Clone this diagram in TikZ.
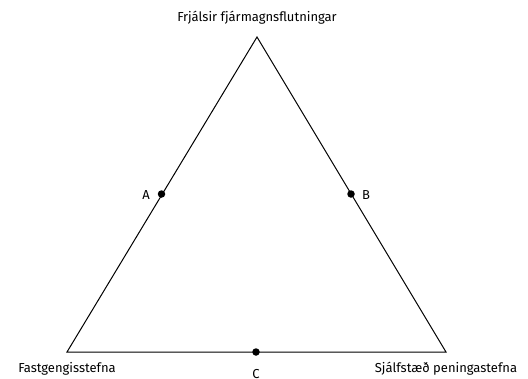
\documentclass[tikz,border=0pt]{standalone}
\usepackage{fontspec}
\setmainfont{Fira Sans}
\begin{document}
\begin{tikzpicture}[x=1pt,y=-1pt,
  side/.style={draw=black,line width=1pt,line join=miter},
  dot/.style={circle,fill=black,inner sep=0pt,minimum size=7.5pt},
  lbl/.style={font=\fontsize{13}{15}\selectfont,inner sep=0pt}]
\useasboundingbox (0,0) rectangle (528,378);
\clip (0,0) rectangle (528,378);
\coordinate (T) at (257,37);
\coordinate (L) at (67,352);
\coordinate (R) at (446,352);
\draw[side] (T) -- (L) -- (R) -- cycle;
\node[dot] (A) at (161.5,194) {};
\node[dot] (B) at (351,194) {};
\node[dot] (C) at (256,352) {};
\node[lbl] (tT) at (257,18) {Frjálsir fjármagnsflutningar};
\node[lbl] (tL) at (67,369) {Fastgengisstefna};
\node[lbl] (tR) at (446,369) {Sjálfstæð peningastefna};
\node[lbl] (tA) at (146,195) {A};
\node[lbl] (tB) at (366,195) {B};
\node[lbl,anchor=north] (tC) at (256,369) {C};
\end{tikzpicture}
\end{document}
